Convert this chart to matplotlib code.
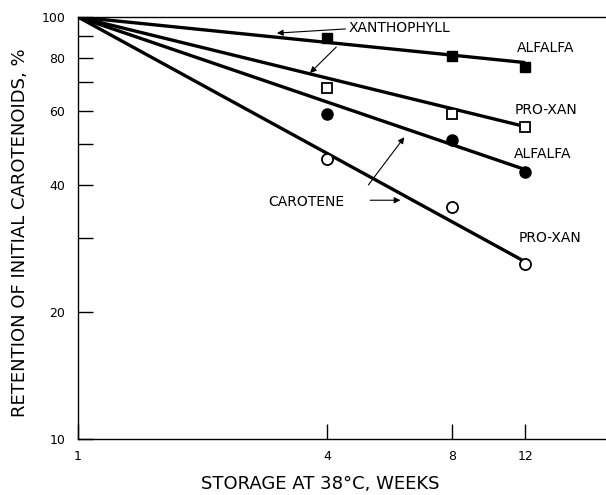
import matplotlib.pyplot as plt
from matplotlib.ticker import FixedLocator, FixedFormatter, NullFormatter

# measured retention (%) after storage at 38 C
weeks = [4, 8, 12]
xan_alfalfa = [89, 81, 76]
xan_proxan = [68, 59, 55]
car_alfalfa = [59, 51, 43]
car_proxan = [46, 35.5, 26]

# fitted lines, all start from 100 % at week 1
fit_weeks = [1, 12]
xan_alfalfa_fit = [100, 78]
xan_proxan_fit = [100, 55]
car_alfalfa_fit = [100, 43.5]
car_proxan_fit = [100, 26.3]

y_major = [10, 20, 40, 60, 80, 100]
y_minor = [30, 50, 70, 90]
x_ticks = [1, 4, 8, 12]

plt.rcParams['font.family'] = 'DejaVu Sans'

fig = plt.figure(figsize=(6.06, 4.95), dpi=100)
ax = fig.add_axes([0.1287, 0.1131, 0.8713, 0.8525])

ax.set_xscale('log')
ax.set_yscale('log')
ax.set_xlim(1, 18.8)
ax.set_ylim(10, 100)

lw = 2.4
for fit in [xan_alfalfa_fit, xan_proxan_fit, car_alfalfa_fit, car_proxan_fit]:
    ax.plot(fit_weeks, fit, color='black', lw=lw, solid_capstyle='butt', zorder=2)

ms = 7
ax.plot(weeks, xan_alfalfa, ls='none', marker='s', ms=ms, mfc='black', mec='black', zorder=3)
ax.plot(weeks, xan_proxan, ls='none', marker='s', ms=ms, mfc='white', mec='black', mew=1.3, zorder=3)
ax.plot(weeks, car_alfalfa, ls='none', marker='o', ms=ms + 1, mfc='black', mec='black', zorder=3)
ax.plot(weeks, car_proxan, ls='none', marker='o', ms=ms + 1, mfc='white', mec='black', mew=1.3, zorder=3)

# axes styling
for s in ['left', 'bottom', 'top']:
    ax.spines[s].set_linewidth(1.0)
ax.spines['right'].set_visible(False)

ax.yaxis.set_major_locator(FixedLocator(y_major))
ax.yaxis.set_major_formatter(FixedFormatter([str(v) for v in y_major]))
ax.yaxis.set_minor_locator(FixedLocator(y_minor))
ax.yaxis.set_minor_formatter(NullFormatter())
ax.xaxis.set_major_locator(FixedLocator(x_ticks))
ax.xaxis.set_major_formatter(FixedFormatter([str(v) for v in x_ticks]))
ax.xaxis.set_minor_locator(FixedLocator([]))

ax.tick_params(axis='y', which='both', direction='in', length=11, width=1.0, labelsize=9, pad=9)
ax.tick_params(axis='x', which='both', direction='in', length=11, width=1.0, labelsize=9, pad=8)

ax.set_ylabel('RETENTION OF INITIAL CAROTENOIDS, %', fontsize=13)
ax.yaxis.set_label_coords(-0.093, 0.49)
ax.set_xlabel('STORAGE AT 38°C, WEEKS', fontsize=13)
ax.xaxis.set_label_coords(0.458, -0.085)

# labels and arrows
fs = 10
ax.text(4.49, 94.2, 'XANTHOPHYLL', fontsize=fs, ha='left', va='center')
ax.text(2.88, 36.4, 'CAROTENE', fontsize=fs, ha='left', va='center')
ax.text(11.49, 84.4, 'ALFALFA', fontsize=fs, ha='left', va='center')
ax.text(11.3, 60.2, 'PRO-XAN', fontsize=fs, ha='left', va='center')
ax.text(11.25, 47.4, 'ALFALFA', fontsize=fs, ha='left', va='center')
ax.text(11.55, 29.9, 'PRO-XAN', fontsize=fs, ha='left', va='center')

arrow = dict(arrowstyle='-|>', color='black', lw=0.8, mutation_scale=9, shrinkA=0, shrinkB=0)
ax.annotate('', xy=(3.02, 91.6), xytext=(4.42, 93.7), arrowprops=arrow)
ax.annotate('', xy=(3.63, 73.7), xytext=(4.2, 84.9), arrowprops=arrow)
ax.annotate('', xy=(6.0, 36.8), xytext=(5.07, 36.8), arrowprops=arrow)
ax.annotate('', xy=(6.13, 51.9), xytext=(5.02, 40.0), arrowprops=arrow)

fig.savefig('out.png', dpi=100)
